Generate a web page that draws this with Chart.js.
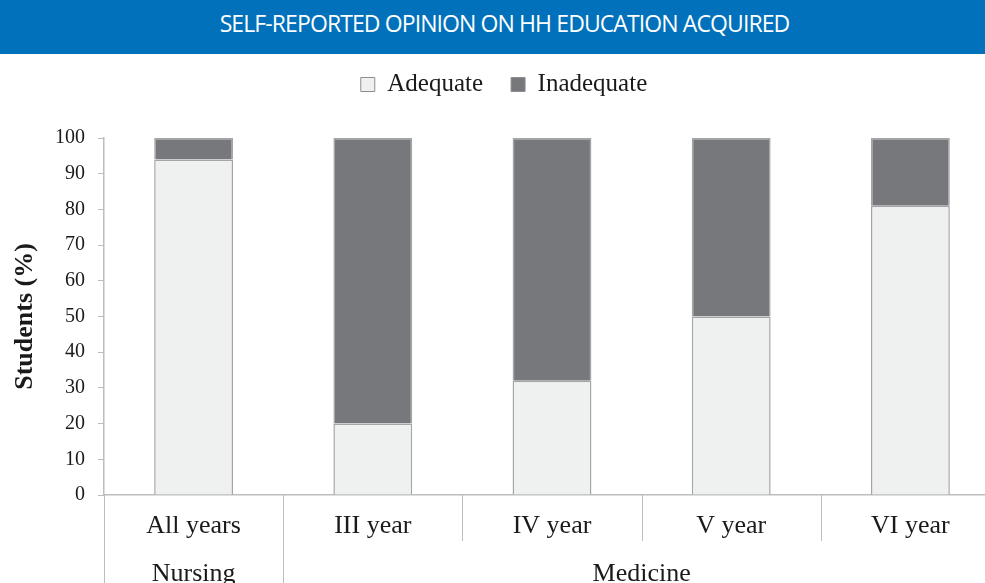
<!DOCTYPE html>
<html>
<head>
<meta charset="utf-8">
<script src="https://cdn.jsdelivr.net/npm/chart.js@4"></script>
<style>
    html, body { margin: 0; padding: 0; background: #fff; overflow: hidden; }
    #header {
        height: 54px;
        box-sizing: border-box;
        padding-left: 24px;
        background: #0071ba;
        color: #fff;
        font-family: "Open Sans", sans-serif;
        font-size: 23px;
        line-height: 46px;
        text-align: center;
        letter-spacing: -0.9px;
    }
    #wrap { position: relative; width: 1000px; height: 529px; }
</style>
</head>
<body>
<div id="header">SELF-REPORTED OPINION ON HH EDUCATION ACQUIRED</div>
<div id="wrap"><canvas id="opinion"></canvas></div>
<script>
const categories = ["All years", "III year", "IV year", "V year", "VI year"];
const adequate = [94, 20, 32, 50, 81];
const inadequate = [6, 80, 68, 50, 19];
const groupNames = ["Nursing", "Medicine"];
const groupStart = [0, 1];
const groupEnd = [0, 4];
const yTicks = [0, 10, 20, 30, 40, 50, 60, 70, 80, 90, 100];

const serif = "'Liberation Serif', 'Times New Roman', serif";
const axisGrey = "#bdbdbd";
const textColor = "#1a1a1a";

// fixed legend block height so the plot starts where the original does
const legendGap = {
    id: "legendGap",
    beforeInit(chart) {
        const fit = chart.legend.fit;
        chart.legend.fit = function () {
            fit.bind(chart.legend)();
            this.height = 94;
        };
    },
};

// separator lines under the x axis and the group labels
const groupAxis = {
    id: "groupAxis",
    afterDraw(chart) {
        const ctx = chart.ctx;
        const x = chart.scales.x;
        const area = chart.chartArea;
        const half = (x.getPixelForValue(1) - x.getPixelForValue(0)) / 2;
        ctx.save();
        ctx.strokeStyle = axisGrey;
        ctx.lineWidth = 1;
        for (let i = 0; i <= categories.length; i++) {
            const px = Math.round(x.getPixelForValue(i) - half) + 0.5;
            const isGroupEdge = groupStart.includes(i) || i === categories.length;
            ctx.beginPath();
            ctx.moveTo(px, area.bottom);
            ctx.lineTo(px, isGroupEdge ? chart.height : area.bottom + 46);
            ctx.stroke();
        }
        ctx.fillStyle = textColor;
        ctx.font = "26px " + serif;
        ctx.textAlign = "center";
        ctx.textBaseline = "middle";
        groupNames.forEach((name, g) => {
            const left = x.getPixelForValue(groupStart[g]) - half;
            const right = x.getPixelForValue(groupEnd[g]) + half;
            ctx.fillText(name, (left + right) / 2, area.bottom + 79);
        });
        ctx.restore();
    },
};

new Chart(document.getElementById("opinion"), {
    type: "bar",
    data: {
        labels: categories,
        datasets: [
            {
                label: "Adequate",
                data: adequate,
                backgroundColor: "#eff0f0",
                borderColor: "#a4a5a7",
                borderWidth: 1.5,
            },
            {
                label: "Inadequate",
                data: inadequate,
                backgroundColor: "#77787c",
                borderColor: "#a4a5a7",
                borderWidth: 1.5,
            },
        ],
    },
    options: {
        responsive: true,
        maintainAspectRatio: false,
        animation: false,
        layout: {
            padding: { top: -10, left: 8, right: 0, bottom: 0 },
        },
        datasets: {
            bar: {
                barPercentage: 0.44,
                categoryPercentage: 1,
            },
        },
        scales: {
            x: {
                stacked: true,
                grid: { display: false },
                border: { display: true, color: axisGrey, width: 1.5 },
                ticks: {
                    color: textColor,
                    font: { family: serif, size: 26 },
                    padding: 8,
                },
                afterFit(scale) {
                    scale.height = 88;
                },
            },
            y: {
                stacked: true,
                min: 0,
                max: 100,
                afterBuildTicks(scale) {
                    scale.ticks = yTicks.map((v) => ({ value: v }));
                },
                grid: {
                    drawOnChartArea: false,
                    drawTicks: true,
                    tickLength: 6,
                    color: axisGrey,
                },
                border: { display: true, color: axisGrey, width: 1.5 },
                ticks: {
                    color: textColor,
                    font: { family: serif, size: 20 },
                    padding: 13,
                },
                title: {
                    display: true,
                    text: "Students (%)",
                    color: textColor,
                    font: { family: serif, size: 26, weight: "bold" },
                    padding: { top: 2, bottom: 10 },
                },
                afterFit(scale) {
                    scale.width = 96;
                },
            },
        },
        plugins: {
            legend: {
                position: "top",
                labels: {
                    color: textColor,
                    font: { family: serif, size: 25 },
                    boxWidth: 14,
                    boxHeight: 14,
                    padding: 28,
                    generateLabels(chart) {
                        return chart.data.datasets.map((ds, i) => ({
                            text: ds.label,
                            fillStyle: ds.backgroundColor,
                            strokeStyle: "#8d8e90",
                            lineWidth: 1,
                            datasetIndex: i,
                            fontColor: textColor,
                        }));
                    },
                },
            },
            tooltip: { enabled: false },
        },
    },
    plugins: [groupAxis, legendGap],
});
</script>
</body>
</html>
